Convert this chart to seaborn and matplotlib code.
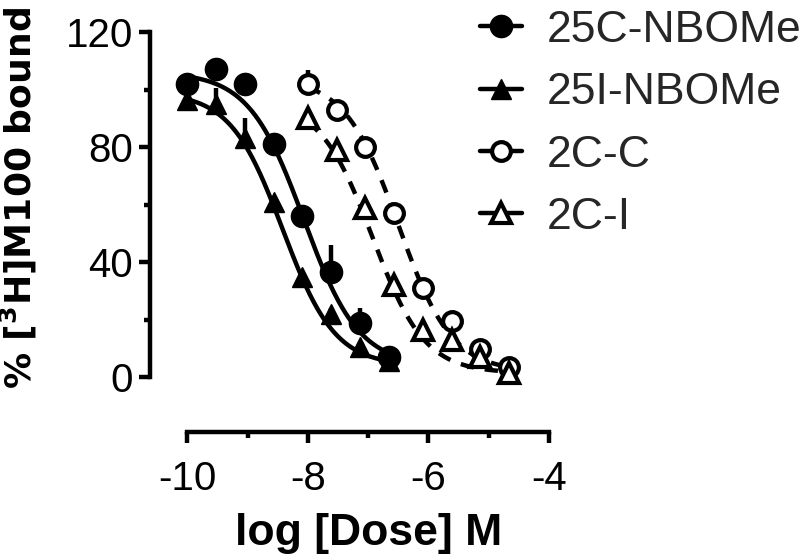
import numpy as np
import pandas as pd
import matplotlib
matplotlib.use('Agg')
import matplotlib.pyplot as plt
from matplotlib.lines import Line2D
from matplotlib.ticker import MultipleLocator
import seaborn as sns

# ── Data ────────────────────────────────────────────────────────────────────
log_dose_nbome = [-10.0, -9.52, -9.05, -8.57, -8.09, -7.61, -7.14, -6.66]
log_dose_2c    = [-8.0, -7.52, -7.05, -6.57, -6.09, -5.61, -5.14, -4.66]

bound_25c = [102, 107, 102, 81, 56, 36.5, 19, 7]
sem_25c   = [2, 2, 2, 2, 3, 9.5, 5, 1]
bound_25i = [96.5, 95, 83, 61, 35, 22, 10.5, 5.5]
sem_25i   = [2, 5.5, 7, 2, 2, 2, 1, 1]
bound_2cc = [102, 93, 80, 57, 31, 19.5, 10, 3.6]
sem_2cc   = [4.7, 2, 2, 2, 2, 2, 1, 1]
bound_2ci = [90, 79, 59, 32, 16.5, 13, 7, 1.5]
sem_2ci   = [2, 2, 2, 2, 2, 1, 1, 1]

compounds = ['25C-NBOMe', '25I-NBOMe', '2C-C', '2C-I']

# fitted one-site curves: top, bottom, logIC50, hill slope
fit_top    = [106, 99, 104, 96]
fit_bottom = [4, 4, 2, 1.5]
fit_logic  = [-8.07, -8.42, -6.50, -6.93]
fit_hill   = [0.95, 1.0, 0.98, 1.0]

# ── Style ────────────────────────────────────────────────────────────────────
sns.set_theme(style='ticks')
plt.rcParams['font.family'] = ['Liberation Sans', 'DejaVu Sans']
plt.rcParams['axes.unicode_minus'] = False

LW = 3.2
fig = plt.figure(figsize=(8, 5.55), dpi=100)
ax = fig.add_axes([0.1875, 0.2216, 0.50625, 0.726])

doses  = [log_dose_nbome, log_dose_nbome, log_dose_2c, log_dose_2c]
bounds = [bound_25c, bound_25i, bound_2cc, bound_2ci]
sems   = [sem_25c, sem_25i, sem_2cc, sem_2ci]
markers = ['o', '^', 'o', '^']
sizes   = [16, 15, 13.5, 14]
faces   = ['black', 'black', 'white', 'white']
styles  = ['-', '-', (0, (3, 2.5)), (0, (3, 2.5))]

# curves
for i, name in enumerate(compounds):
    xs = np.linspace(min(doses[i]), max(doses[i]), 200)
    ys = fit_bottom[i] + (fit_top[i] - fit_bottom[i]) / (1 + 10 ** ((xs - fit_logic[i]) * fit_hill[i]))
    curve = pd.DataFrame({'log_dose': xs, 'bound': ys})
    sns.lineplot(data=curve, x='log_dose', y='bound', ax=ax, color='black',
                 lw=LW, linestyle=styles[i], estimator=None, zorder=2)

# points with upper error bars
handles = []
for i, name in enumerate(compounds):
    err = [np.zeros(len(sems[i])), sems[i]]
    mew = 1 if faces[i] == 'black' else 3
    ax.errorbar(doses[i], bounds[i], yerr=err, fmt=markers[i], ms=sizes[i],
                mfc=faces[i], mec='black', mew=mew,
                ecolor='black', elinewidth=LW, capsize=0, zorder=3 + i, clip_on=False)
    handles.append(Line2D([], [], color='black', lw=LW, marker=markers[i], ms=sizes[i],
                          mfc=faces[i], mec='black', mew=mew))

ax.set_xlim(-10.62, -3.9)
ax.set_ylim(-19, 121)
ax.set_xticks([-10, -8, -6, -4])
ax.set_yticks([0, 40, 80, 120])
ax.xaxis.set_minor_locator(MultipleLocator(1))
ax.yaxis.set_minor_locator(MultipleLocator(20))
sns.despine(ax=ax, trim=True)
for s in ['left', 'bottom']:
    ax.spines[s].set_linewidth(LW)
    ax.spines[s].set_color('black')
ax.tick_params(which='major', length=8, width=LW, labelsize=29, color='black',
               labelcolor='black', pad=4)
ax.tick_params(axis='x', which='major', pad=12)
ax.tick_params(which='minor', length=4.5, width=LW, color='black')

ax.set_xlabel('log [Dose] M', fontsize=32, fontweight='bold', color='black')
ax.set_ylabel(r'% [$^{\mathbf{3}}$H]M100 bound', fontsize=26, fontweight='bold',
              color='black', family='DejaVu Sans')
ax.xaxis.set_label_coords(0.54, -0.2)
ax.yaxis.set_label_coords(-0.274, 0.58)

fig.legend(handles, compounds, loc='upper left', bbox_to_anchor=(0.6, 0.982),
           frameon=False, fontsize=32, handlelength=0.95, handletextpad=0.55,
           labelspacing=0.48, borderpad=0, borderaxespad=0)

fig.savefig('out.png', dpi=100)
